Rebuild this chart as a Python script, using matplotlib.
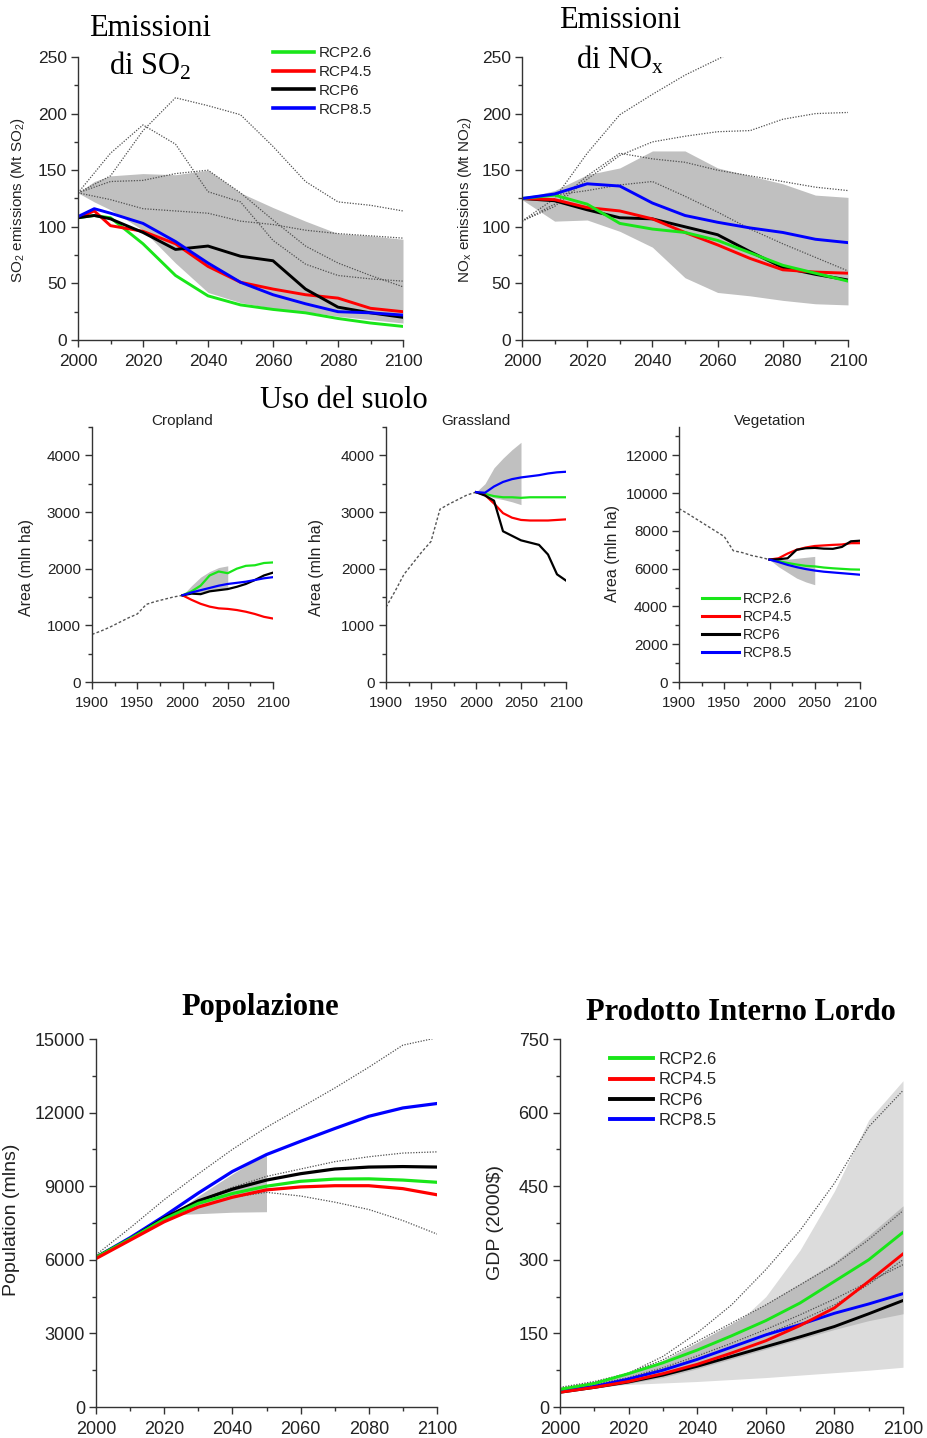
import matplotlib
matplotlib.use('Agg')
import matplotlib.pyplot as plt
from matplotlib.ticker import MultipleLocator
from matplotlib.lines import Line2D

plt.rcParams['font.family'] = ['Liberation Sans', 'DejaVu Sans']
plt.rcParams['mathtext.fontset'] = 'custom'
plt.rcParams['mathtext.rm'] = 'Liberation Serif'
plt.rcParams['mathtext.sf'] = 'Liberation Sans'

# ---------------- DATA ----------------
scenarios = ['RCP2.6', 'RCP4.5', 'RCP6', 'RCP8.5']
colors = {'RCP2.6': '#19e619', 'RCP4.5': '#ff0000', 'RCP6': '#000000', 'RCP8.5': '#0000ff'}

decades = [2000, 2010, 2020, 2030, 2040, 2050, 2060, 2070, 2080, 2090, 2100]
hist_years = [1900, 1910, 1920, 1930, 1940, 1950, 1960, 1970, 1980, 1990, 2000]
band_years = [2000, 2010, 2020, 2030, 2040, 2050]

# SO2
so2_years = [2000, 2005, 2010, 2020, 2030, 2040, 2050, 2060, 2070, 2080, 2090, 2100]
so2_rcp26 = [108, 110, 108, 85, 57, 39, 31, 27, 24, 19, 15, 12]
so2_rcp45 = [108, 114, 101, 96, 85, 65, 51, 45, 40, 37, 28, 25]
so2_rcp6 = [108, 110, 107, 95, 80, 83, 74, 70, 45, 29, 24, 20]
so2_rcp85 = [109, 116, 112, 103, 87, 68, 51, 40, 32, 25, 24, 22]
so2_band_hi = [130, 140, 145, 147, 146, 150, 130, 117, 105, 94, 92, 89]
so2_band_lo = [130, 122, 115, 97, 68, 42, 33, 28, 25, 21, 18, 15]
so2_other_a = [130, 165, 190, 173, 131, 122, 88, 67, 57, 54, 52]
so2_other_b = [130, 145, 185, 214, 207, 199, 171, 140, 122, 119, 114]
so2_other_c = [130, 140, 141, 147, 150, 130, 106, 83, 68, 57, 47]
so2_other_d = [130, 124, 116, 114, 112, 105, 102, 97, 94, 92, 90]

# NOx
nox_rcp26 = [125, 128, 120, 103, 98, 95, 88, 77, 66, 59, 52]
nox_rcp45 = [125, 124, 117, 114, 107, 95, 84, 72, 62, 60, 59]
nox_rcp6 = [125, 123, 115, 108, 107, 100, 93, 78, 64, 58, 53]
nox_rcp85 = [125, 129, 138, 136, 121, 110, 104, 99, 95, 89, 86]
nox_band_hi = [125, 132, 146, 152, 167, 167, 152, 145, 138, 128, 126]
nox_band_lo = [124, 105, 106, 96, 82, 55, 42, 39, 35, 32, 31]
nox_other_a = [105, 125, 165, 199, 217, 234, 248, 262, 275, 285, 295]
nox_other_b = [105, 118, 142, 163, 175, 180, 184, 185, 195, 200, 201]
nox_other_c = [105, 120, 145, 165, 160, 157, 150, 145, 140, 135, 132]
nox_other_d = [125, 128, 132, 137, 140, 127, 113, 98, 85, 73, 61]

# Land use
crop_hist = [840, 900, 970, 1050, 1130, 1200, 1370, 1420, 1460, 1500, 1530]
crop_rcp26 = [1530, 1600, 1700, 1880, 1950, 1920, 2000, 2050, 2060, 2100, 2110]
crop_rcp45 = [1530, 1450, 1380, 1330, 1300, 1290, 1270, 1240, 1200, 1150, 1120]
crop_rcp6 = [1530, 1560, 1550, 1600, 1620, 1640, 1680, 1730, 1800, 1880, 1930]
crop_rcp85 = [1530, 1580, 1620, 1660, 1700, 1730, 1750, 1770, 1800, 1830, 1850]
crop_band_hi = [1530, 1700, 1850, 1950, 2020, 2050]
crop_band_lo = [1530, 1560, 1580, 1600, 1620, 1650]

grass_hist = [1320, 1600, 1900, 2100, 2300, 2480, 3050, 3140, 3220, 3300, 3350]
grass_rcp26 = [3350, 3320, 3280, 3260, 3260, 3250, 3260, 3260, 3260, 3260, 3260]
grass_rcp45 = [3350, 3300, 3150, 2980, 2900, 2860, 2850, 2850, 2850, 2860, 2870]
grass_rcp6 = [3350, 3290, 3200, 2660, 2580, 2500, 2460, 2420, 2250, 1900, 1790]
grass_rcp85 = [3350, 3340, 3450, 3530, 3580, 3610, 3630, 3650, 3680, 3700, 3710]
grass_band_hi = [3350, 3500, 3780, 3950, 4100, 4230]
grass_band_lo = [3350, 3300, 3250, 3220, 3180, 3130]

veg_hist = [9180, 8900, 8600, 8300, 8000, 7700, 6950, 6850, 6700, 6600, 6480]
veg_rcp26 = [6480, 6400, 6300, 6220, 6150, 6120, 6060, 6020, 5990, 5960, 5950]
veg_rcp45 = [6480, 6550, 6800, 7000, 7120, 7200, 7230, 7260, 7280, 7350, 7350]
veg_rcp6 = [6480, 6500, 6550, 7000, 7080, 7100, 7060, 7050, 7150, 7450, 7480]
veg_rcp85 = [6480, 6350, 6200, 6080, 5980, 5900, 5840, 5800, 5760, 5720, 5680]
veg_band_hi = [6480, 6500, 6500, 6550, 6600, 6650]
veg_band_lo = [6480, 6100, 5800, 5500, 5300, 5150]

# Population
pop_rcp26 = [6100, 6850, 7650, 8300, 8700, 9000, 9200, 9290, 9300, 9250, 9160]
pop_rcp45 = [6050, 6800, 7550, 8150, 8550, 8850, 8970, 9020, 9020, 8900, 8650]
pop_rcp6 = [6100, 6850, 7700, 8400, 8880, 9250, 9510, 9700, 9780, 9800, 9780]
pop_rcp85 = [6100, 6900, 7780, 8720, 9600, 10290, 10830, 11350, 11850, 12190, 12370]
pop_band_years = [2025, 2030, 2040, 2050]
pop_band_hi = [8100, 8600, 9500, 10350]
pop_band_lo = [7850, 7880, 7940, 7960]
pop_other_a = [6200, 7300, 8450, 9500, 10500, 11400, 12200, 13000, 13850, 14750, 15050]
pop_other_b = [6100, 6900, 7700, 8400, 8950, 9400, 9700, 10000, 10200, 10350, 10400]
pop_other_c = [6050, 6800, 7550, 8150, 8550, 8750, 8600, 8350, 8050, 7600, 7050]

# GDP
gdp_rcp26 = [36, 48, 68, 90, 116, 145, 176, 212, 256, 300, 356]
gdp_rcp45 = [30, 40, 52, 68, 87, 110, 135, 166, 202, 256, 312]
gdp_rcp6 = [30, 40, 51, 65, 83, 103, 123, 143, 164, 190, 217]
gdp_rcp85 = [32, 42, 57, 75, 97, 122, 147, 168, 191, 210, 231]
gdp_light_hi = [40, 52, 68, 90, 115, 160, 225, 320, 440, 585, 665]
gdp_light_lo = [35, 42, 46, 49, 52, 56, 60, 65, 70, 75, 81]
gdp_dark_hi = [38, 50, 68, 95, 132, 170, 210, 252, 295, 350, 410]
gdp_dark_lo = [30, 38, 48, 60, 78, 98, 118, 138, 158, 176, 190]
gdp_other_a = [40, 52, 69, 103, 151, 208, 280, 360, 456, 571, 645]
gdp_other_b = [38, 50, 69, 96, 134, 171, 208, 249, 290, 341, 400]
gdp_other_c = [35, 46, 60, 80, 104, 130, 158, 188, 220, 255, 290]
gdp_other_d = [33, 44, 58, 76, 98, 122, 148, 176, 208, 250, 300]

# ---------------- FIGURE ----------------
W, H = 927, 1438
fig = plt.figure(figsize=(W / 100, H / 100), dpi=100)
fig.patch.set_facecolor('white')

TXT = '#222222'
BAND = '#c0c0c0'
DOT = '#505050'


def make_ax(l, r, t, b, xlim, ylim, xmaj, xmin, ymaj, ymin, lsize):
    ax = fig.add_axes([l / W, 1 - b / H, (r - l) / W, (b - t) / H])
    for s in ['top', 'right']:
        ax.spines[s].set_visible(False)
    for s in ['left', 'bottom']:
        ax.spines[s].set_color('#333333')
        ax.spines[s].set_linewidth(1.0)
    ax.set_xlim(*xlim)
    ax.set_ylim(*ylim)
    ax.xaxis.set_major_locator(MultipleLocator(xmaj))
    ax.xaxis.set_minor_locator(MultipleLocator(xmin))
    ax.yaxis.set_major_locator(MultipleLocator(ymaj))
    ax.yaxis.set_minor_locator(MultipleLocator(ymin))
    ax.tick_params(which='major', direction='out', length=5, width=1,
                   colors='#333333', labelcolor=TXT, labelsize=lsize, pad=3)
    ax.tick_params(axis='x', which='major', pad=5)
    ax.tick_params(which='minor', direction='out', length=3, width=1, colors='#333333')
    ax.set_facecolor('none')
    return ax


def ftext(x, y, s, **kw):
    fig.text(x / W, 1 - y / H, s, **kw)


def legend(ax, x, y, size, hl, spacing, lw):
    handles = [Line2D([], [], color=colors[s], lw=lw) for s in scenarios]
    ax.legend(handles, scenarios, loc='upper left', bbox_to_anchor=(x / W, 1 - y / H),
              bbox_transform=fig.transFigure, frameon=False, fontsize=size,
              handlelength=hl, handletextpad=0.3, labelspacing=spacing,
              borderpad=0, borderaxespad=0, labelcolor=TXT)


# ---- SO2 ----
ax = make_ax(78, 403, 57, 340, (2000, 2100), (0, 250), 20, 10, 50, 25, 12.5)
ax.fill_between(so2_years, so2_band_lo, so2_band_hi, color=BAND, lw=0)
for d in [so2_other_a, so2_other_b, so2_other_c, so2_other_d]:
    ax.plot(decades, d, ls=(0, (1, 1.2)), color=DOT, lw=0.9)
for s, d in zip(scenarios, [so2_rcp26, so2_rcp45, so2_rcp6, so2_rcp85]):
    ax.plot(so2_years, d, color=colors[s], lw=2.1)
legend(ax, 273, 46, 11, 2.7, 0.32, 2.6)
ftext(18, 200, 'SO$_\\mathsf{2}$ emissions (Mt SO$_\\mathsf{2}$)', rotation=90,
      ha='center', va='center', fontsize=11, color=TXT)
ftext(150, 28, 'Emissioni', ha='center', va='center', fontsize=22,
      family='Liberation Serif')
ftext(150, 66, 'di SO$_\\mathrm{2}$', ha='center', va='center', fontsize=22,
      family='Liberation Serif')

# ---- NOx ----
ax = make_ax(522, 848, 57, 340, (2000, 2100), (0, 250), 20, 10, 50, 25, 12.5)
ax.fill_between(decades, nox_band_lo, nox_band_hi, color=BAND, lw=0)
for d in [nox_other_a, nox_other_b, nox_other_c, nox_other_d]:
    ax.plot(decades, d, ls=(0, (1, 1.2)), color=DOT, lw=0.9)
for s, d in zip(['RCP6', 'RCP4.5', 'RCP2.6', 'RCP8.5'],
                [nox_rcp6, nox_rcp45, nox_rcp26, nox_rcp85]):
    ax.plot(decades, d, color=colors[s], lw=2.1)
ftext(465, 200, 'NO$_\\mathsf{x}$ emissions (Mt NO$_\\mathsf{2}$)', rotation=90,
      ha='center', va='center', fontsize=11, color=TXT)
ftext(620, 21, 'Emissioni', ha='center', va='center', fontsize=22,
      family='Liberation Serif')
ftext(620, 60, 'di NO$_\\mathrm{x}$', ha='center', va='center', fontsize=22,
      family='Liberation Serif')

# ---- Land use ----
ftext(344, 401, 'Uso del suolo', ha='center', va='center', fontsize=22,
      family='Liberation Serif')
landuse = [
    (92, 273, 'Cropland', (0, 4500), 1000, 500, crop_hist,
     [crop_rcp26, crop_rcp45, crop_rcp6, crop_rcp85], crop_band_lo, crop_band_hi, 26, 568),
    (386, 566, 'Grassland', (0, 4500), 1000, 500, grass_hist,
     [grass_rcp26, grass_rcp45, grass_rcp6, grass_rcp85], grass_band_lo, grass_band_hi, 317, 568),
    (679, 860, 'Vegetation', (0, 13500), 2000, 1000, veg_hist,
     [veg_rcp26, veg_rcp45, veg_rcp6, veg_rcp85], veg_band_lo, veg_band_hi, 612, 553),
]
for (l, r, title, ylim, ymaj, ymin, hist, series, blo, bhi, ylx, yly) in landuse:
    ax = make_ax(l, r, 427, 682, (1900, 2100), ylim, 50, 25, ymaj, ymin, 11)
    ax.fill_between(band_years, blo, bhi, color=BAND, lw=0)
    ax.plot(hist_years, hist, ls=(0, (2, 1.5)), color='#555555', lw=1.0)
    for s, d in zip(scenarios, series):
        ax.plot(decades, d, color=colors[s], lw=1.6)
    ftext((l + r) / 2, 421, title, ha='center', va='center', fontsize=11, color=TXT)
    ftext(ylx, yly, 'Area (mln ha)', rotation=90, ha='center', va='center',
          fontsize=11.5, color=TXT)
    if title == 'Vegetation':
        legend(ax, 702, 592, 10.2, 2.6, 0.28, 2.2)

# ---- Population ----
ax = make_ax(96, 437, 1039, 1407, (2000, 2100), (0, 15000), 20, 10, 3000, 1500, 13)
ax.fill_between(pop_band_years, pop_band_lo, pop_band_hi, color=BAND, lw=0)
for d in [pop_other_a, pop_other_b, pop_other_c]:
    ax.plot(decades, d, ls=(0, (1, 1.2)), color=DOT, lw=0.9)
for s, d in zip(['RCP8.5', 'RCP6', 'RCP2.6', 'RCP4.5'],
                [pop_rcp85, pop_rcp6, pop_rcp26, pop_rcp45]):
    ax.plot(decades, d, color=colors[s], lw=2.3)
ftext(12, 1220, 'Population (mlns)', rotation=90, ha='center', va='center',
      fontsize=14, color=TXT)
ftext(260, 1008, 'Popolazione', ha='center', va='center', fontsize=22,
      family='Liberation Serif', weight='bold')

# ---- GDP ----
ax = make_ax(560, 903, 1039, 1407, (2000, 2100), (0, 750), 20, 10, 150, 75, 13)
ax.fill_between(decades, gdp_light_lo, gdp_light_hi, color='#dcdcdc', lw=0)
ax.fill_between(decades, gdp_dark_lo, gdp_dark_hi, color='#bdbdbd', lw=0)
for d in [gdp_other_a, gdp_other_b, gdp_other_c, gdp_other_d]:
    ax.plot(decades, d, ls=(0, (1, 1.2)), color=DOT, lw=0.9)
for s, d in zip(['RCP6', 'RCP8.5', 'RCP4.5', 'RCP2.6'],
                [gdp_rcp6, gdp_rcp85, gdp_rcp45, gdp_rcp26]):
    ax.plot(decades, d, color=colors[s], lw=2.1)
legend(ax, 610, 1052, 12, 2.6, 0.32, 2.8)
ftext(495, 1223, 'GDP (2000$)', rotation=90, ha='center', va='center',
      fontsize=14, color=TXT)
ftext(741, 1013, 'Prodotto Interno Lordo', ha='center', va='center', fontsize=22,
      family='Liberation Serif', weight='bold')

fig.savefig('out.png', dpi=100, facecolor='white')
